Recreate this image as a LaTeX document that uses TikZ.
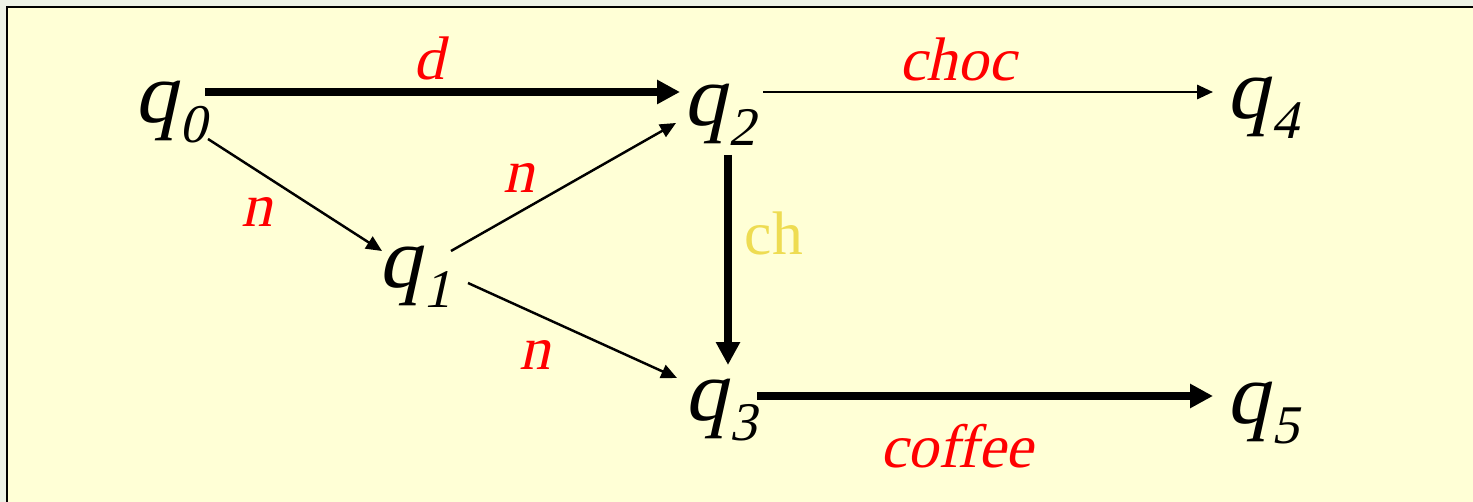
\documentclass[tikz,border=0pt]{standalone}
\usepackage{fontspec}
\setmainfont{Liberation Serif}
\newfontfamily\itfont{Liberation Serif}[FakeSlant=0.22]
\usepackage{xcolor}
\usepackage{tikz}
\usetikzlibrary{arrows.meta}
\definecolor{slidebg}{RGB}{255,255,214}
\definecolor{pagebg}{RGB}{237,242,230}
\definecolor{chyellow}{RGB}{238,220,82}
\newcommand{\qst}[1]{q\kern1pt\raisebox{-11pt}{\fontsize{31}{31}\selectfont #1}}

\begin{document}
\begin{tikzpicture}[
  x=0.02cm, y=-0.02cm,
  state/.style={inner sep=0pt, anchor=base west, font=\fontsize{49}{49}\selectfont\itfont},
  thin/.style={-{Triangle[length=9pt, width=8pt]}, line width=1.4pt},
  thick/.style={-{Triangle[length=13pt, width=13pt]}, line width=4pt},
  lbl/.style={inner sep=0pt, text=red, font=\fontsize{35}{35}\selectfont\itfont}
]
\useasboundingbox (0,0) rectangle (1473,502);
\fill[pagebg] (0,0) rectangle (1473,502);
\fill[slidebg] (7,7) rectangle (1473,502);
\draw[line width=1.3pt] (7,502) -- (7,7) -- (1473,7);

\node[state] (q0) at (134,123) {\qst{0}};
\node[state] (q1) at (378,288) {\qst{1}};
\node[state] (q2) at (683,126) {\qst{2}};
\node[state] (q3) at (684,421) {\qst{3}};
\node[state] (q4) at (1226,119) {\qst{4}};
\node[state] (q5) at (1226,424) {\qst{5}};

\draw[thick] ([shift={(71,-31)}]q0.base west) -- node[lbl, pos=0.472, above=5pt] {d} ([shift={(-3,-34)}]q2.base west);
\draw[thin] ([shift={(80,-34)}]q2.base west) -- node[lbl, pos=0.432, above=5.5pt] {choc} ([shift={(-13,-27)}]q4.base west);
\draw[thin] ([shift={(74,16)}]q0.base west) -- node[lbl, pos=0.28, below=15pt] {n} ([shift={(4,-37)}]q1.base west);
\draw[thin] ([shift={(73,-37)}]q1.base west) -- node[lbl, pos=0.3, above=11pt] {n} ([shift={(-7,-3)}]q2.base west);
\draw[thin] ([shift={(90,-5)}]q1.base west) -- node[lbl, pos=0.32, below=15pt] {n} ([shift={(-7,-43)}]q3.base west);
\draw[thick] ([shift={(45,29)}]q2.base west) -- node[lbl, pos=0.376, right=7.5pt, text=chyellow, font=\fontsize{35}{35}\selectfont\rmfamily] {ch} ([shift={(44,-56)}]q3.base west);
\draw[thick] ([shift={(73,-25)}]q3.base west) -- node[lbl, pos=0.438, below=14pt] {coffee} ([shift={(-13,-28)}]q5.base west);
\end{tikzpicture}
\end{document}
